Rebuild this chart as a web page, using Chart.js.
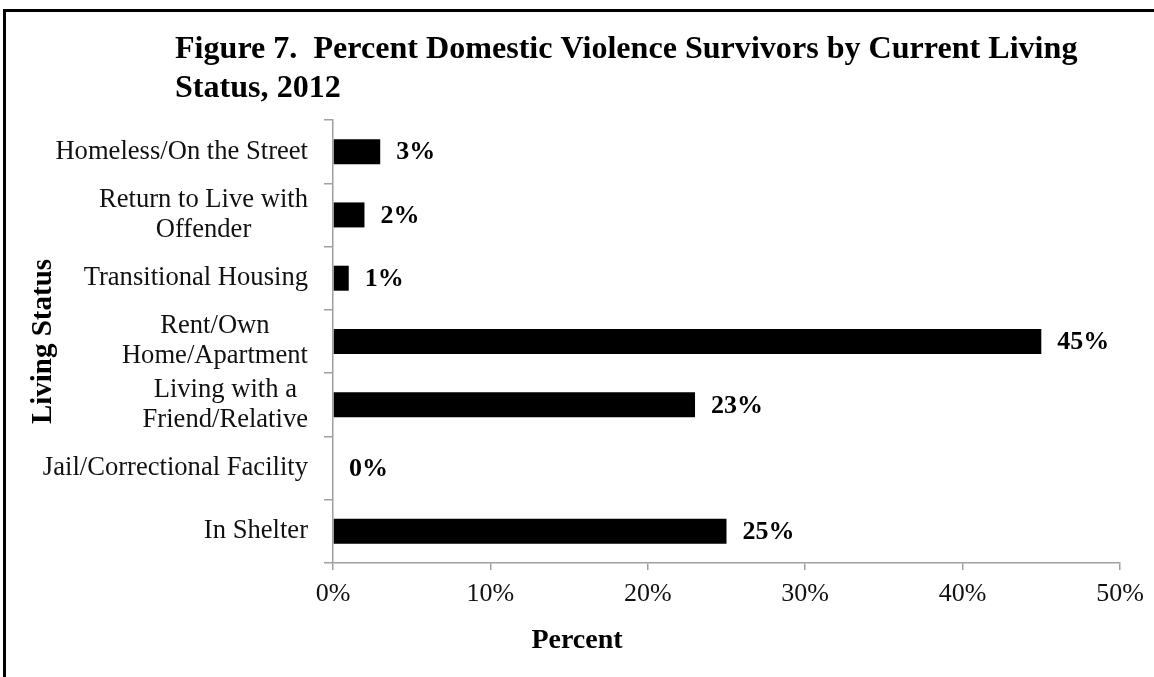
<!DOCTYPE html>
<html>
<head>
  <title>Figure 7 - Living Status</title>
  <script src="https://cdn.jsdelivr.net/npm/chart.js@4.4.1/dist/chart.umd.min.js"></script>
  <style>
    body { margin: 0; background: #fff; overflow: hidden; }
    #wrap { position: relative; width: 1154px; height: 677px; }
    #frame {
      position: absolute; left: 3px; top: 9px; width: 1300px; height: 800px;
      border-left: 3px solid #000; border-top: 3px solid #000;
      pointer-events: none;
    }
  </style>
</head>
<body>
  <div id="wrap">
    <canvas id="myChart" width="1154" height="677"></canvas>
    <div id="frame"></div>
  </div>
<script>
    // Chart data
    const categories = [
      ['Homeless/On the Street'],
      ['Return to Live with', 'Offender'],
      ['Transitional Housing'],
      ['Rent/Own', 'Home/Apartment'],
      ['Living with a', 'Friend/Relative'],
      ['Jail/Correctional Facility'],
      ['In Shelter']
    ];
    const percents = [3, 2, 1, 45, 23, 0, 25];
    const xTicks = [0, 10, 20, 30, 40, 50];

    const titleLines = ['Figure 7.  Percent Domestic Violence Survivors by Current Living', 'Status, 2012'];
    const xTitle = 'Percent';
    const yTitle = 'Living Status';

    const serif = "'Liberation Serif', 'Times New Roman', serif";
    const axisGray = '#a0a0a0';

    // Draws the title, x axis title, category labels and bar value labels
    const textPlugin = {
      id: 'textPlugin',
      afterDraw(chart) {
        const ctx = chart.ctx;
        const area = chart.chartArea;
        const yScale = chart.scales.y;
        ctx.save();
        ctx.fillStyle = '#000';

        // main title (source looks slightly stretched sideways)
        ctx.font = 'bold 31px ' + serif;
        ctx.textAlign = 'left';
        ctx.textBaseline = 'alphabetic';
        ctx.save();
        ctx.translate(175, 0);
        ctx.scale(1.035, 1);
        ctx.fillText(titleLines[0], 0, 58);
        ctx.fillText(titleLines[1], 0, 97);
        ctx.restore();

        // x axis title, centered on the whole figure
        ctx.font = 'bold 28px ' + serif;
        ctx.textAlign = 'center';
        ctx.fillText(xTitle, chart.width / 2, 648);

        // category labels, lines centered within a right aligned block
        ctx.font = '26.6px ' + serif;
        ctx.fillStyle = '#111';
        ctx.textBaseline = 'middle';
        const rightEdge = area.left - 25;
        categories.forEach((lines, i) => {
          const yMid = yScale.getPixelForValue(i);
          let maxW = 0;
          lines.forEach(l => { maxW = Math.max(maxW, ctx.measureText(l).width); });
          const cx = rightEdge - maxW / 2;
          lines.forEach((l, j) => {
            ctx.fillText(l, cx, yMid + (j - (lines.length - 1) / 2) * 30);
          });
        });

        // bar value labels
        ctx.font = 'bold 26px ' + serif;
        ctx.fillStyle = '#000';
        ctx.textAlign = 'left';
        const meta = chart.getDatasetMeta(0);
        meta.data.forEach((bar, i) => {
          ctx.fillText(percents[i] + '%', bar.x + 16, bar.y + 1);
        });

        ctx.restore();
      }
    };

    const chartCanvas = document.getElementById('myChart');

    new Chart(chartCanvas, {
      type: 'bar',
      data: {
        labels: categories.map(c => c.join(' ')),
        datasets: [{
          data: percents,
          backgroundColor: '#000',
          borderWidth: 0,
          categoryPercentage: 1,
          barPercentage: 0.395
        }]
      },
      options: {
        indexAxis: 'y',
        responsive: false,
        animation: false,
        layout: {
          padding: { top: 120, right: 34, left: 0, bottom: 0 }
        },
        plugins: {
          legend: { display: false },
          tooltip: { enabled: false }
        },
        scales: {
          x: {
            min: xTicks[0],
            max: xTicks[xTicks.length - 1],
            afterFit: s => { s.height = 114; },
            afterBuildTicks: s => { s.ticks = xTicks.map(v => ({ value: v })); },
            ticks: {
              padding: 9,
              color: '#111',
              font: { family: serif, size: 26 },
              callback: v => v + '%'
            },
            grid: {
              drawOnChartArea: false,
              tickLength: 7,
              color: axisGray,
              lineWidth: 1.5
            },
            border: { color: axisGray, width: 1.5 }
          },
          y: {
            afterFit: s => { s.width = 333; },
            ticks: { display: false },
            grid: {
              drawOnChartArea: false,
              offset: true,
              tickLength: 9,
              color: axisGray,
              lineWidth: 1.5
            },
            border: { color: axisGray, width: 1.5 },
            title: {
              display: true,
              text: yTitle,
              color: '#000',
              padding: { top: 26, bottom: 0 },
              font: { family: serif, size: 29, weight: 'bold' }
            }
          }
        }
      },
      plugins: [textPlugin]
    });
  </script>
</body>
</html>
